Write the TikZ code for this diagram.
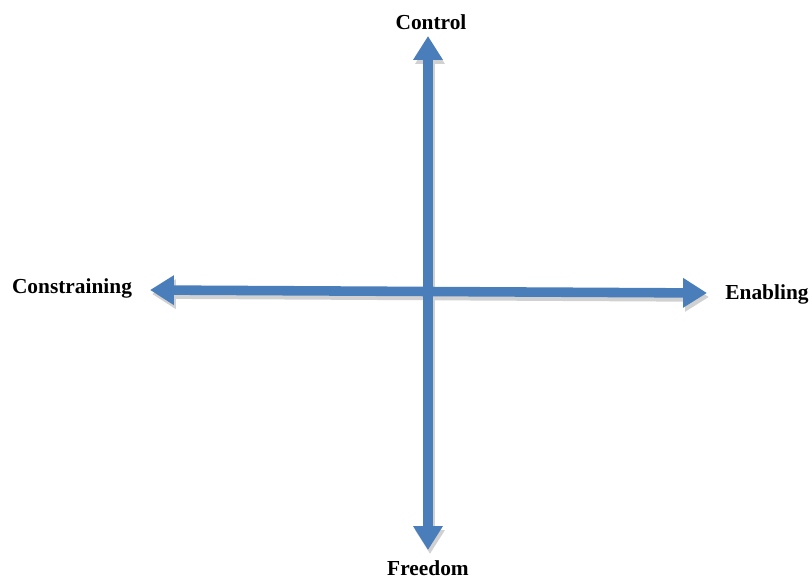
\documentclass[tikz,border=0pt]{standalone}
\usepackage{fontspec}
\setmainfont{Liberation Serif}
\usepackage{xcolor}
\definecolor{axisblue}{HTML}{4A7EBB}
\usetikzlibrary{arrows.meta}

\begin{document}
\begin{tikzpicture}[
  x=0.025cm, y=-0.025cm,
  axis/.style={draw=axisblue, line width=6.8pt, {Triangle[width=20pt,length=17pt]}-{Triangle[width=20pt,length=17pt]}},
  axisshadow/.style={axis, draw=black!18},
  pole/.style={font=\fontsize{15.2}{18}\selectfont\bfseries}
]
  \useasboundingbox (0,0) rectangle (812,580);
  % axis ends
  \coordinate (top) at (428,36);
  \coordinate (bottom) at (428,550);
  \coordinate (left) at (150,290);
  \coordinate (right) at (707,293);
  % shadows first, then the two axes
  \draw[axisshadow] ([shift={(2,4)}]left) -- ([shift={(2,4)}]right);
  \draw[axisshadow] ([shift={(2,4)}]top) -- ([shift={(2,4)}]bottom);
  \draw[axis] (left) -- (right);
  \draw[axis] (top) -- (bottom);
  % pole labels
  \node[pole] (control) at (431,22) {Control};
  \node[pole] (freedom) at (428,568) {Freedom};
  \node[pole] (constraining) at (72,288) {Constraining};
  \node[pole] (enabling) at (767,294) {Enabling};
\end{tikzpicture}
\end{document}
